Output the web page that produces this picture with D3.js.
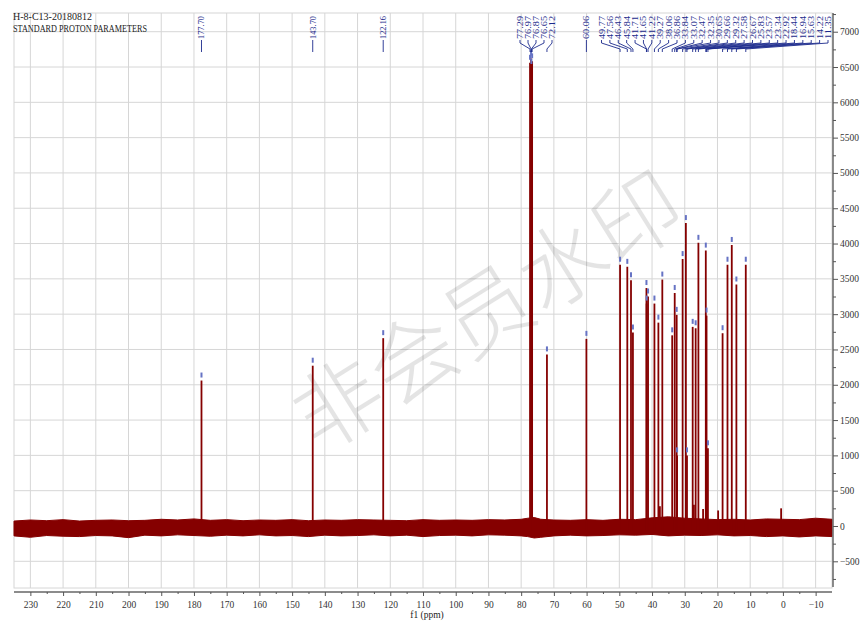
<!DOCTYPE html>
<html><head><meta charset="utf-8">
<script src="https://cdn.jsdelivr.net/npm/d3@7"></script>
<style>html,body{margin:0;padding:0;background:#fff}svg{display:block}</style>
</head><body>
<svg id="c" width="863" height="624"></svg>
<script>
// ---------------- data ----------------
const headerLines = ["H-8-C13-20180812", "STANDARD PROTON PARAMETERS"];
const xTickValues = [230,220,210,200,190,180,170,160,150,140,130,120,110,100,90,80,70,60,50,40,30,20,10,0,-10];
const yTickValues = [-500,0,500,1000,1500,2000,2500,3000,3500,4000,4500,5000,5500,6000,6500,7000];
const xAxisTitle = "f1 (ppm)";
const watermarkText = "非会员水印";

// isolated labelled peaks
const isoPpm    = [177.70, 143.70, 122.16, 60.06];
const isoHeight = [2060, 2270, 2660, 2650];
// solvent cluster
const clusterAPpm    = [77.29, 76.97, 76.87, 76.65, 72.12];
const clusterAHeight = [6560, 6620, 6500, 6580, 2430];
// aliphatic cluster
const clusterBPpm = [49.77, 47.56, 46.43, 45.84, 41.71, 41.65, 41.22, 39.27, 38.06, 36.86,
                     33.84, 33.07, 32.47, 32.35, 30.65, 29.66, 29.32, 27.58, 26.67, 25.83,
                     23.57, 23.34, 22.92, 18.44, 16.94, 15.63, 14.22, 11.35];
const clusterBHeight = [3700, 3670, 3480, 2740, 3370, 3150, 3250, 3150, 2880, 3490,
                        2700, 3300, 2990, 1000, 3780, 4290, 1000, 2820, 2800, 4010,
                        3900, 2980, 1100, 2730, 3700, 3980, 3420, 3700];
// small unlabelled peaks
const smallPpm    = [0.55, 24.4, 19.8, 37.6, 27.2];
const smallHeight = [250, 240, 220, 280, 300];

// baseline noise envelope (upper / lower edge of the noise band)
const noisePpm = [235,230,225,220,215,210,205,200,195,190,185,180,175,170,165,160,155,150,145,140,135,130,125,120,115,110,105,100,95,90,85,80,78,76,74,70,65,60,55,50,45,40,35,30,25,20,15,10,5,0,-5,-10,-15];
const noiseHi  = [70,85,75,90,70,80,85,75,80,95,85,100,80,90,75,85,80,90,75,85,80,90,85,80,75,90,80,85,80,90,85,95,110,120,95,85,80,90,80,95,90,115,130,110,100,90,95,85,100,95,90,110,95];
const noiseLo  = [-140,-160,-135,-145,-150,-135,-140,-165,-130,-140,-125,-135,-145,-130,-140,-125,-140,-135,-150,-130,-140,-135,-125,-140,-130,-150,-135,-130,-140,-125,-130,-140,-150,-170,-160,-140,-130,-140,-135,-125,-130,-120,-140,-130,-135,-125,-140,-135,-150,-140,-155,-140,-150];

// ---------------- layout ----------------
const plot = {left: 14, right: 832, top: 13, bottom: 588};
const svg = d3.select("#c");
const x = d3.scaleLinear().domain([235, -15]).range([plot.left, plot.right]);
const y = d3.scaleLinear().domain([-864, 7265]).range([587, 13]);

const red = "#850000", blue = "#1c2a8c", grid = "#d6d6d6";
const serif = "'Liberation Serif','DejaVu Serif',serif";

// grid
const g = svg.append("g");
g.selectAll(".vg").data(xTickValues).join("line")
  .attr("x1", d => x(d)).attr("x2", d => x(d)).attr("y1", plot.top).attr("y2", plot.bottom)
  .attr("stroke", grid).attr("stroke-width", 1);
g.selectAll(".hg").data(yTickValues).join("line")
  .attr("x1", plot.left).attr("x2", plot.right).attr("y1", d => y(d)).attr("y2", d => y(d))
  .attr("stroke", grid).attr("stroke-width", 1);
g.append("rect").attr("x", plot.left).attr("y", plot.top)
  .attr("width", plot.right - plot.left).attr("height", plot.bottom - plot.top)
  .attr("fill", "none").attr("stroke", grid);

// watermark
svg.append("text").text(watermarkText)
  .attr("transform", "translate(492,318) rotate(-32)")
  .attr("text-anchor", "middle").attr("dominant-baseline", "middle")
  .attr("font-family", "'Noto Sans CJK SC',sans-serif").attr("font-weight", 300)
  .attr("font-size", 88).attr("fill", "#000").attr("opacity", 0.1);

// header
svg.selectAll(".hdr").data(headerLines).join("text")
  .attr("x", 13).attr("y", (d, i) => 20 + i * 12)
  .attr("font-family", serif).attr("font-size", 10.5).attr("fill", "#222")
  .attr("textLength", (d, i) => i === 0 ? 79 : 134).attr("lengthAdjust", "spacingAndGlyphs")
  .text(d => d);

// noise band
const noiseData = noisePpm.map((p, i) => ({p, hi: noiseHi[i], lo: noiseLo[i]}));
svg.append("path").datum(noiseData)
  .attr("d", d3.area().x(d => x(d.p)).y0(d => y(d.lo)).y1(d => y(d.hi)))
  .attr("fill", red).attr("stroke", red).attr("stroke-width", 1);

// peaks
const allPeaks = [];
isoPpm.forEach((p, i) => allPeaks.push({p, h: isoHeight[i], lab: true}));
clusterAPpm.forEach((p, i) => allPeaks.push({p, h: clusterAHeight[i], lab: true}));
clusterBPpm.forEach((p, i) => allPeaks.push({p, h: clusterBHeight[i], lab: true}));
smallPpm.forEach((p, i) => allPeaks.push({p, h: smallHeight[i], lab: false}));

svg.selectAll(".pk").data(allPeaks).join("line")
  .attr("x1", d => x(d.p)).attr("x2", d => x(d.p))
  .attr("y1", y(-60)).attr("y2", d => y(d.h))
  .attr("stroke", red).attr("stroke-width", 1.8);

// peak top markers
svg.selectAll(".pm").data(allPeaks.filter(d => d.lab)).join("rect")
  .attr("x", d => x(d.p) - 1).attr("y", d => y(d.h) - 8)
  .attr("width", 2).attr("height", 5).attr("fill", "#6673c4");

// peak labels
const labelBottom = 39;
function drawLabel(px, text) {
  svg.append("text").text(text)
    .attr("transform", `translate(${px + 3},${labelBottom}) rotate(-90)`)
    .attr("font-family", serif).attr("font-size", 8.5).attr("fill", blue)
    .attr("textLength", 23).attr("lengthAdjust", "spacingAndGlyphs");
}
const conn = svg.append("g").attr("stroke", blue).attr("stroke-width", 0.9).attr("fill", "none");
isoPpm.forEach(p => {
  drawLabel(x(p), p.toFixed(2));
  conn.append("line").attr("x1", x(p)).attr("x2", x(p)).attr("y1", labelBottom + 1).attr("y2", 52);
});
function drawCluster(ppms, x0, x1) {
  const n = ppms.length;
  ppms.forEach((p, i) => {
    const lx = n === 1 ? x0 : x0 + (x1 - x0) * i / (n - 1);
    drawLabel(lx, p.toFixed(2));
    const px = x(p);
    conn.append("path").attr("d", `M${lx},${labelBottom + 1}V${labelBottom + 4}L${px},${labelBottom + 10}V52`);
  });
}
drawCluster(clusterAPpm, 520, 552);
drawCluster(clusterBPpm, 601.5, 828);

// x axis
const xAxisY = 592;
const xa = svg.append("g").attr("transform", `translate(0,${xAxisY})`)
  .call(d3.axisBottom(x).tickValues(xTickValues).tickSize(4).tickSizeOuter(0).tickPadding(5));
svg.append("g").attr("transform", `translate(0,${xAxisY})`)
  .call(d3.axisBottom(x).tickValues(xTickValues.slice(0, -1).map(v => v - 5)).tickSize(2).tickFormat(""))
  .call(s => s.select(".domain").remove());
xa.select(".domain").attr("d", `M${plot.left},0H${plot.right}`);
svg.append("text").text(xAxisTitle).attr("x", 427).attr("y", 618)
  .attr("text-anchor", "middle").attr("font-family", serif).attr("font-size", 9.5).attr("fill", "#222");

// y axis
const yAxisX = 833;
const ya = svg.append("g").attr("transform", `translate(${yAxisX},0)`)
  .call(d3.axisRight(y).tickValues(yTickValues).tickFormat(d3.format("d")).tickSize(5).tickSizeOuter(0).tickPadding(2));
svg.append("g").attr("transform", `translate(${yAxisX},0)`)
  .call(d3.axisRight(y).tickValues(yTickValues.map(v => v + 250).concat([-750])).tickSize(3).tickFormat(""))
  .call(s => s.select(".domain").remove());
ya.select(".domain").attr("d", "M0,13V587");

svg.selectAll(".tick text").attr("font-family", serif).attr("font-size", 9.5).attr("fill", "#333");
svg.selectAll(".domain").attr("stroke", "#666").attr("stroke-width", 1.5);
svg.selectAll(".tick line").attr("stroke", "#555");
</script>
</body></html>
